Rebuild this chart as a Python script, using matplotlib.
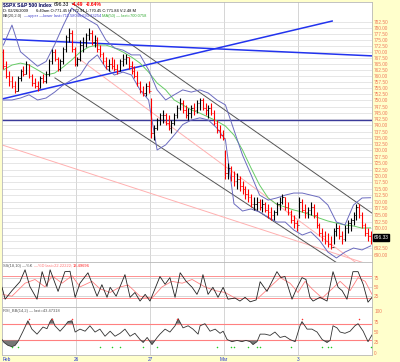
import numpy as np
import matplotlib
matplotlib.use("Agg")
import matplotlib.pyplot as plt
from matplotlib.ticker import NullLocator, FixedLocator, FuncFormatter

# ---------------- data (15-minute bars, Feb 25 - Mar 3 2009) ----------------
first_open = 770.0
highs = [771,766,762,760,758,760,763,764,766,765,761,759,758,760,761,762,767,771,771,768,767,772,777,780,779,772,
         768,775,776,778,780,779,777,776,773,770,768,767,768,767,765,767,769,769,768,766,764,762,758,756,757,758,
         751,740,743,745,746,745,744,742,745,748,751,750,748,747,748,749,750,751,751,749,748,749,746,742,740,738,
         730,725,724,722,721,720,718,716,715,713,712,712,711,711,710,709,708,707,710,712,713,712,710,707,705,703,
         712,711,709,708,710,709,706,702,700,699,698,697,700,702,701,699,701,703,704,706,709,709,706,702,700,699]
lows = [763,759,756,755,753,754,758,760,761,759,756,755,754,755,757,757,760,765,766,762,762,765,770,774,770,764,
        764,766,770,772,775,773,772,770,768,765,763,762,763,762,761,762,764,765,763,761,759,756,753,752,752,753,
        735,734,738,740,741,740,738,737,740,743,746,745,743,742,743,744,745,746,746,744,743,744,740,737,735,734,
        719,719,718,716,715,714,713,711,710,708,707,707,707,706,706,704,703,703,705,707,709,707,705,702,700,699,
        704,706,704,704,705,704,700,697,695,694,693,692,694,697,696,694,695,698,699,701,703,704,700,697,695,694]
closes = [764,760,758,756,754,759,762,761,765,760,757,756,755,759,758,761,766,770,767,763,766,771,776,778,771,765,
          767,773,774,777,778,774,775,771,769,766,764,765,764,763,762,766,767,768,764,762,760,757,754,753,756,754,
          737,739,742,744,744,741,739,741,744,747,749,746,744,745,747,746,749,750,747,746,747,745,741,738,736,735,
          721,723,720,718,719,716,715,713,712,709,709,710,708,709,707,706,705,706,709,710,712,708,706,703,702,701,
          710,707,706,707,708,705,701,698,697,695,694,693,699,700,697,696,700,702,703,705,708,705,701,698,697,696.33]

# Bollinger bands (20,2) and MA(50), sampled every 3 bars
band_t = list(range(0, 130, 3))
bb_upper = [772.8,781.2,770.0,767.0,764.0,766.0,773.0,781.0,788.4,785.5,
            783.3,781.2,774.9,771.6,770.7,768.7,768.7,762.5,754.3,750.2,
            752.3,754.3,753.4,754.3,753.0,750.2,748.2,738.1,728.2,720.5,
            712.6,710.7,711.5,712.6,713.4,713.4,712.6,711.8,708.8,702.3,
            701.2,708.8,711.5,711.6]
bb_lower = [750.2,750.2,751.0,752.3,750.2,751.0,753.4,756.3,758.4,760.4,
            765.8,768.7,763.3,760.4,761.6,760.4,754.3,750.2,730.2,732.2,
            736.1,740.3,742.1,743.0,742.1,738.9,734.2,709.3,706.5,707.3,
            706.1,704.2,702.3,702.3,699.3,697.4,698.6,695.5,691.0,688.8,
            691.0,692.5,691.8,693.3]
ma50 = [762.5,764.5,765.3,764.5,762.5,760.4,761.2,763.7,766.6,769.9,
        772.0,772.8,772.8,771.6,769.9,767.8,765.3,761.6,757.1,754.3,
        750.2,748.2,746.2,744.9,743.3,741.7,739.7,736.1,730.2,723.1,
        716.5,711.5,709.1,708.0,706.9,706.1,705.0,703.8,702.7,701.9,
        701.2,700.8,700.0,700.1]

# hand-drawn trend lines: (t0, p0, t1, p1)
blue_lines = [(-0.5, 775.3, 129.5, 768.3), (-0.5, 750.6, 115.5, 782.9)]
navy_level = 742.1
channel_lines = [(24.1, 790.6, 129.5, 705.7), (18.1, 759.2, 129.5, 678.5)]
pink_lines = [(26.2, 767.4, 129.5, 682.7), (-0.5, 732.2, 129.5, 686.0)]

# Slow stochastic (18,10)
k_t = [-0.5,0.6,3.0,5.8,7.6,9.3,11.8,13.6,15.3,16.4,19.2,21.6,23.4,25.2,26.9,29.7,32.9,34.6,36.4,37.5,
       39.6,42.7,44.5,46.2,48.0,49.8,51.5,55.0,56.8,58.5,60.3,62.1,64.2,66.3,68.0,69.1,70.1,71.9,73.6,75.4,
       77.2,78.9,81.4,83.1,84.9,86.7,88.8,90.2,92.6,96.1,97.5,98.9,101.4,103.2,104.9,106.3,107.7,108.8,111.2,113.7,
       115.8,117.6,119.0,120.7,122.8,124.6,126.4,128.1,129.5]
k_v = [49,17,40,64,96,51,17,91,51,96,38,91,92,22,60,88,25,56,22,49,
       25,83,22,35,12,30,12,78,57,75,22,88,65,49,30,49,83,30,49,22,
       49,17,20,12,22,10,15,64,38,91,75,78,17,49,75,70,22,12,22,12,
       91,49,40,17,91,91,57,9,22]
d_t = [-0.5,3.0,7.6,11.1,14.6,17.1,20.6,24.1,26.9,31.1,33.9,37.5,41.0,43.8,48.0,52.2,55.7,59.2,62.8,66.3,
       70.8,74.4,77.9,81.4,86.7,89.5,93.0,97.2,100.7,103.5,106.0,108.4,112.0,114.8,118.3,121.8,124.6,127.1,129.5]
d_v = [30,25,60,70,50,80,60,80,50,65,45,35,50,55,25,20,50,65,60,70,
       50,40,35,20,18,20,45,75,60,35,65,45,20,40,65,40,75,65,30]

# RSI(14)
rsi_t = [-0.5,0.2,1.6,3.0,4.1,5.1,6.9,8.6,10.0,11.8,13.9,15.3,16.4,17.1,18.1,19.9,21.6,22.7,24.1,25.2,
         26.9,28.7,30.4,32.2,33.9,35.7,37.5,39.2,41.0,42.7,44.5,46.2,48.0,49.1,50.5,52.2,54.0,55.0,56.8,58.5,
         60.3,61.4,63.1,64.9,66.6,68.4,69.1,70.8,72.6,74.4,76.1,77.2,78.6,80.3,82.1,83.8,85.2,86.7,87.7,89.1,
         90.2,91.9,93.7,95.4,97.2,98.9,100.7,102.5,104.2,104.9,106.7,108.4,110.2,112.0,113.7,114.8,115.8,117.2,118.3,120.0,
         121.8,123.5,124.6,126.4,128.1,129.5]
rsi_v = [32,25,18,15,18,27,52,77,57,45,62,58,75,82,65,52,65,75,77,50,
         57,52,65,50,57,40,52,40,47,57,40,47,32,25,37,20,37,45,57,50,
         65,82,60,65,57,45,65,70,52,57,47,52,32,27,30,27,30,27,20,27,
         45,45,42,50,37,40,32,27,65,75,57,57,50,32,25,30,65,60,50,47,
         52,65,70,52,27,43]
green_dot_t = [3,5,34,38,41,49,54,75,80,81,86,89,90,101,112,114,115,129]
red_dot_t = [9,17,24,61,105,125]

price_levels = [690 + 2.5 * i for i in range(38)]
day_breaks = [25.5, 51.5, 77.5, 103.5]
date_labels = ["Feb", "26", "27", "Mar", "3"]
date_pos = [-0.3, 25.5, 51.5, 77.5, 103.5]

# ---------------- figure ----------------
W, H = 400, 362
BG = "#ffffcc"
LAB = "#f07a5a"
plt.rcParams["font.family"] = ["Liberation Sans", "DejaVu Sans"]
fig = plt.figure(figsize=(4.0, 3.62), dpi=100, facecolor=BG)
renderer = fig.canvas.get_renderer()


def rect(x0, y0, x1, y1):
    return [x0 / W, 1 - y1 / H, (x1 - x0) / W, (y1 - y0) / H]


ax = fig.add_axes(rect(2, 2, 372, 262))
ax_ss = fig.add_axes(rect(2, 262, 372, 307), sharex=ax)
ax_rsi = fig.add_axes(rect(2, 307, 372, 355), sharex=ax)

for a in (ax, ax_ss, ax_rsi):
    a.set_facecolor("white")
    for s in a.spines.values():
        s.set_color("#b8b8b8")
        s.set_linewidth(0.6)
    a.tick_params(length=0, labelsize=3.4, labelcolor=LAB, pad=1.5)
    a.yaxis.tick_right()
    for xb in day_breaks:
        a.axvline(xb, color="#cfcfcf", lw=0.6, zorder=0)

ax.set_xlim(-0.5, 129.5)

# ---- main panel ----
ax.set_yscale("log")
ax.set_ylim(687.3, 791.0)
ax.yaxis.set_minor_locator(NullLocator())
last = closes[-1]
label_levels = [lv for lv in price_levels if abs(lv - last) > 2.0]
ax.yaxis.set_major_locator(FixedLocator(label_levels))
ax.yaxis.set_major_formatter(FuncFormatter(lambda v, p: "%.2f" % v))
for lv in price_levels:
    ax.axhline(lv, color="#dcdcdc", lw=0.5, zorder=0)

t = np.arange(len(closes))
opens = [first_open] + closes[:-1]
cols = ["#ff0000" if c < o else "#000000" for c, o in zip(closes, opens)]

for (t0, p0, t1, p1) in pink_lines:
    ax.plot([t0, t1], [p0, p1], color="#ffb0b0", lw=0.7, zorder=1)
for (t0, p0, t1, p1) in channel_lines:
    ax.plot([t0, t1], [p0, p1], color="#555555", lw=0.7, zorder=1)
ax.axhline(navy_level, color="#3a3a9a", lw=1.0, zorder=1)
for (t0, p0, t1, p1) in blue_lines:
    ax.plot([t0, t1], [p0, p1], color="#2233ee", lw=1.1, zorder=2)

ax.plot(band_t, ma50, color="#66cc66", lw=0.7, zorder=2)
ax.plot(band_t, bb_upper, color="#6b6bbf", lw=0.7, zorder=2)
ax.plot(band_t, bb_lower, color="#6b6bbf", lw=0.7, zorder=2)

ax.vlines(t, lows, highs, colors=cols, lw=0.8, zorder=3)
ax.hlines(closes, t, t + 0.45, colors=cols, lw=0.5, zorder=3)
ax.hlines(opens, t - 0.45, t, colors=cols, lw=0.5, zorder=3)

ax.text(1.004, last, "%.2f" % last, transform=ax.get_yaxis_transform(),
        ha="left", va="center", fontsize=3.5, color="white", zorder=5, clip_on=False,
        bbox=dict(boxstyle="square,pad=0.2", fc="black", ec="black"))
ax.tick_params(labelbottom=False)


# ---- header text, pieces placed one after another ----
def chain(x, y, parts, size=3.0, gap=1.2):
    for s, color, weight in parts:
        tx = fig.text(x / W, 1 - y / H, s, va="center", ha="left", fontsize=size,
                      color=color, fontweight=weight)
        x += tx.get_window_extent(renderer).width + gap


chain(3, 5, [("$SPX S&P 500 Index", "#000055", "bold"), ("696.33", "#000000", "normal"),
             ("-4.49", "#ff0000", "bold"), ("-0.64%", "#ff0000", "bold")], size=3.6, gap=2.5)
chain(3, 11.5, [("D: 02/26/2009", "#000000", "normal"),
                ("6:40am O:771.45 H:772.91 L:770.45 C:771.84 V:2.48 M", "#000000", "normal")],
      size=2.9, gap=8)
chain(3, 16.5, [("BB(20,2.0)", "#333333", "normal"),
                ("\u2014upper \u2014lower last=711.58046,693.33254", "#4444cc", "normal"),
                ("MA(50) \u2014 last=700.0758", "#33aa33", "normal")], size=2.9, gap=1.5)
chain(3, 266, [("SS(18,10) \u2014%K", "#555555", "normal"),
               ("\u2014%D last=22.22222;", "#ff7070", "normal"),
               ("13.49696", "#ff2020", "normal")], size=2.9, gap=1.2)
chain(3, 311, [("RSI_BB(14,2) \u2014 last=43.47318", "#555555", "normal")], size=2.9)

# ---- stochastic panel ----
ax_ss.set_ylim(-4, 117)
ax_ss.set_yticks([25, 50, 75])
for lv in (25, 50, 75):
    ax_ss.axhline(lv, color="#d0d0d0", lw=0.6, zorder=0)
for lv in (20, 80):
    ax_ss.axhline(lv, color="#ff9090", lw=0.7, zorder=1)
ax_ss.plot(d_t, d_v, color="#ff8080", lw=0.6, zorder=2)
ax_ss.plot(k_t, k_v, color="#222222", lw=0.6, zorder=3)
ax_ss.tick_params(labelbottom=False)

# ---- RSI panel ----
ax_rsi.set_ylim(-5, 110)
ax_rsi.set_yticks([0, 25, 50, 75, 100])
for lv in (30, 70):
    ax_rsi.axhline(lv, color="#ff8080", lw=0.8, zorder=1)
rt = np.array(rsi_t)
rv = np.array(rsi_v, dtype=float)
ax_rsi.fill_between(rt, rv, 30, where=rv < 30, interpolate=True, color="#777777", lw=0, zorder=2)
ax_rsi.fill_between(rt, rv, 70, where=rv > 70, interpolate=True, color="#777777", lw=0, zorder=2)
ax_rsi.plot(rsi_t, rsi_v, color="#333333", lw=0.6, zorder=3)
ax_rsi.scatter(green_dot_t, [15] * len(green_dot_t), s=1.2, color="#22cc22", zorder=4, lw=0)
ax_rsi.scatter(red_dot_t, [82] * len(red_dot_t), s=1.2, color="#ff3333", zorder=4, lw=0)
ax_rsi.set_xticks(date_pos)
ax_rsi.set_xticklabels(date_labels)
ax_rsi.tick_params(axis="x", labelcolor="#2233cc", labelsize=3.4, pad=1.5)
for lbl in ax_rsi.get_xticklabels()[:1]:
    lbl.set_ha("left")

fig.savefig("out.png", dpi=100, facecolor=BG)
